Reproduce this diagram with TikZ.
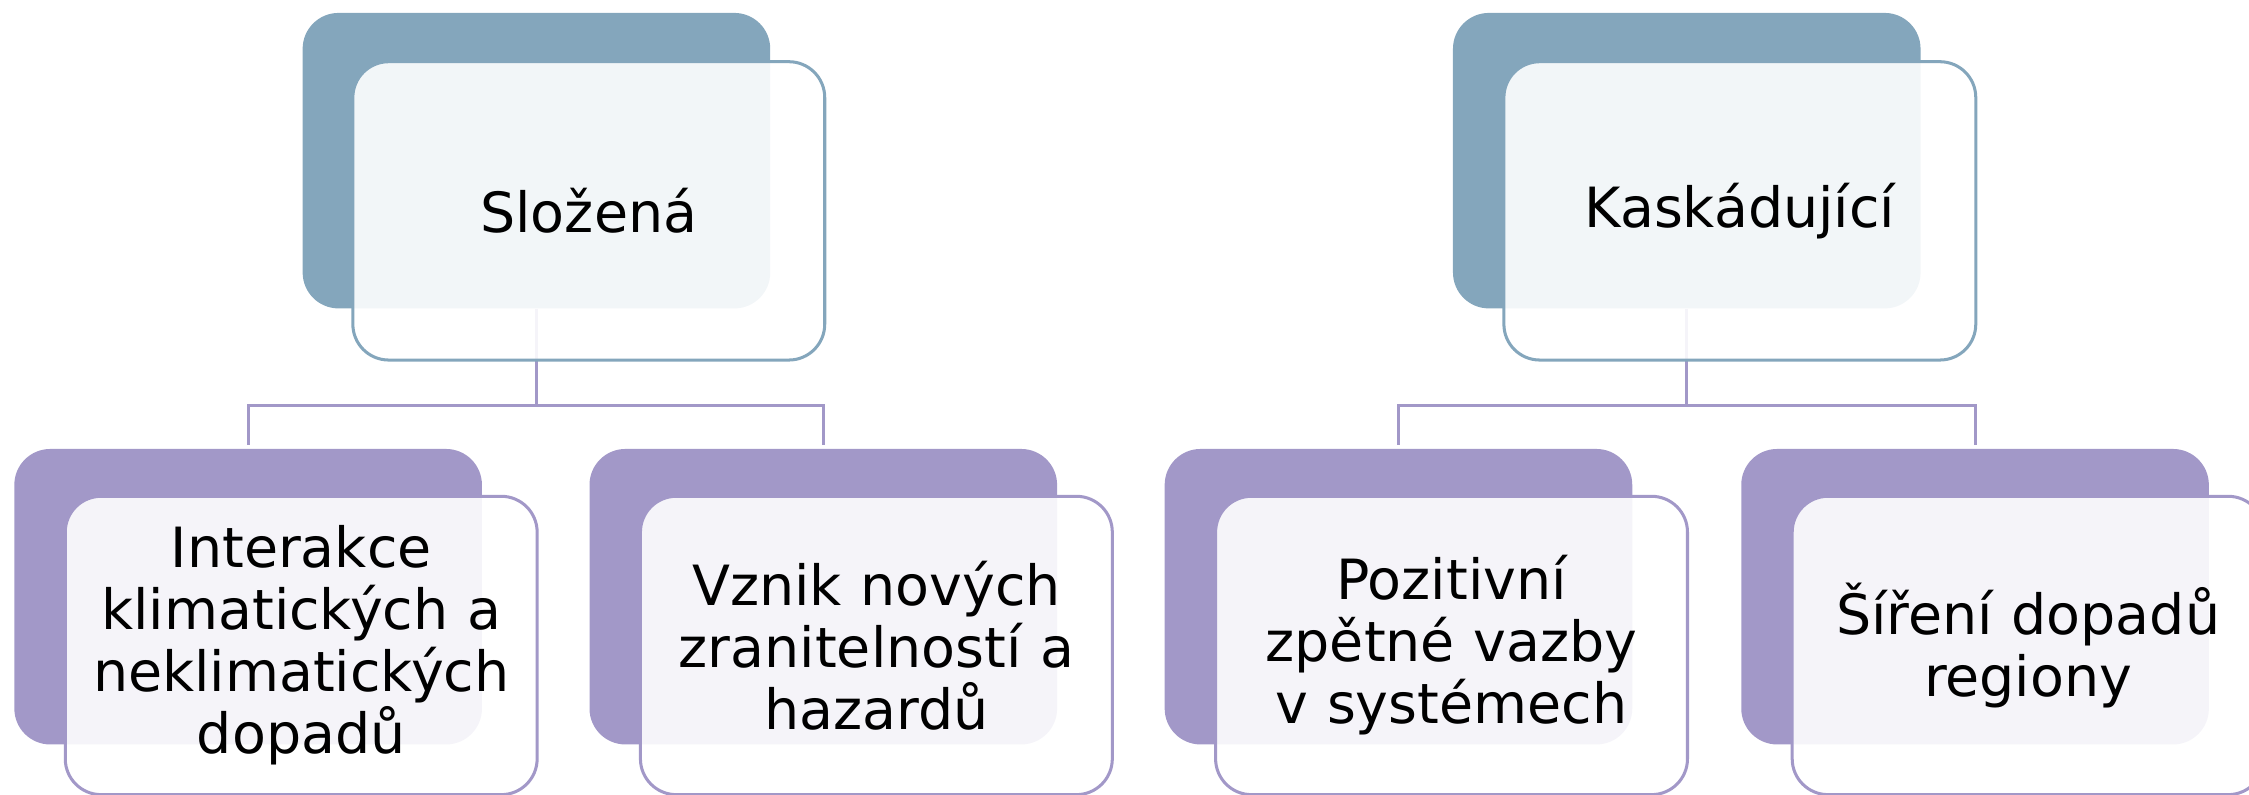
\documentclass[tikz,border=0pt]{standalone}
\usepackage{fontspec}
\setmainfont{DejaVu Sans}
\definecolor{blueback}{RGB}{132,166,188}
\definecolor{lilacback}{RGB}{162,152,200}
\tikzset{
  back/.style={rectangle, rounded corners=0.25cm, minimum width=3.26cm,
    minimum height=2.06cm, fill=#1},
  front/.style={rectangle, rounded corners=0.25cm, minimum width=3.29cm,
    minimum height=2.08cm, draw=#1, line width=0.6pt, fill=white,
    fill opacity=0.9, text opacity=1, align=center, inner sep=0pt,
    text width=3.2cm, font=\fontsize{11}{12.3}\selectfont},
  link/.style={draw=lilacback, line width=0.6pt}
}

\begin{document}
\begin{tikzpicture}

    \clip (0,0) rectangle (15.68,-5.536);
    \useasboundingbox (0,0) rectangle (15.68,-5.536);

    \node[back=blueback] (slozena) at (3.74,-1.12) {};
    \node[back=blueback] (kaskad) at (11.76,-1.12) {};
    \node[back=lilacback] (interakce) at (1.73,-4.16) {};
    \node[back=lilacback] (vznik) at (5.74,-4.16) {};
    \node[back=lilacback] (zpetne) at (9.75,-4.16) {};
    \node[back=lilacback] (sireni) at (13.77,-4.16) {};

    \draw[link] (slozena.south) -- ++(0,-0.67) -| ([yshift=0.6pt]interakce.north);
    \draw[link] (slozena.south) -- ++(0,-0.67) -| ([yshift=0.6pt]vznik.north);
    \draw[link] (kaskad.south) -- ++(0,-0.67) -| ([yshift=0.6pt]zpetne.north);
    \draw[link] (kaskad.south) -- ++(0,-0.67) -| ([yshift=0.6pt]sireni.north);

    \node[front=blueback] at (4.105,-1.47) {Složená};
    \node[front=blueback] at (12.13,-1.47) {Kaskádující};
    \node[front=lilacback] at (2.10,-4.50) {Interakce\\klimatických a\\neklimatických\\dopadů};
    \node[front=lilacback] at (6.11,-4.50) {Vznik nových\\zranitelností a\\hazardů};
    \node[front=lilacback] at (10.12,-4.50) {Pozitivní\\zpětné vazby\\v systémech};
    \node[front=lilacback] at (14.14,-4.50) {Šíření dopadů\\regiony};

  \end{tikzpicture}
\end{document}
